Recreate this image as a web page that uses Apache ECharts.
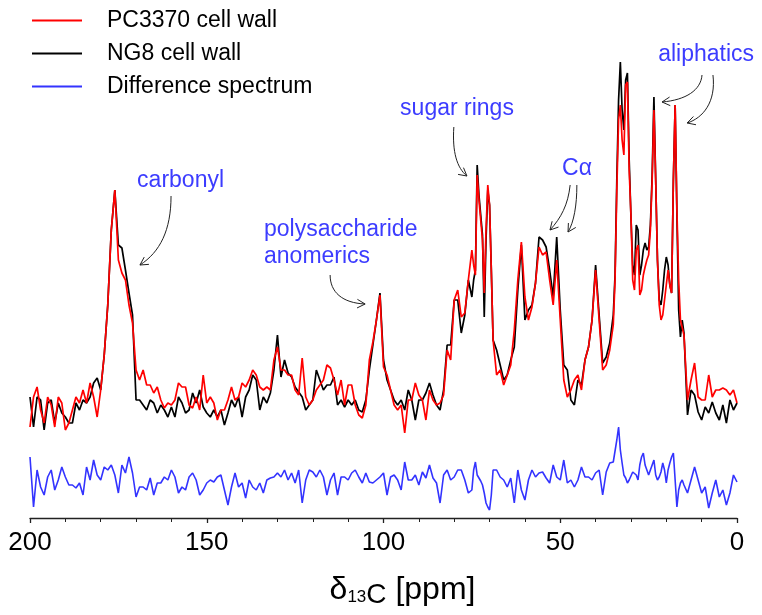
<!DOCTYPE html>
<html>
<head>
<meta charset="utf-8">
<title>13C NMR cell wall</title>
<script src="https://cdn.jsdelivr.net/npm/echarts@6/dist/echarts.min.js"></script>
<style>
html,body{margin:0;padding:0;background:#fff;}
#main{width:762px;height:615px;}
</style>
</head>
<body>
<div id="main"></div>
<script>
// chemical shift grid (ppm), finer steps where the peaks are narrow
var ppm = [200,199,198,197,196,195,194,193,192,191,190,189,188,187,186,185,184,183,182,181,
	180,179,178,177,176,175,174,173,172,171,170,169,168,167,166,165,164,163,162,161,
	160,159,158,157,156,155,154,153,152,151,150,149,148,147,146,145,144,143,142,141,
	140,139,138,137,136,135,134,133,132,131,130,129,128,127,126,125,124,123,122,121,
	120,119,118,117,116,115,114,113,112,111,110,109,108,107,106,105,104,103,102,101,
	100,99,98,97,96,95,94,93,92,91,90,89,88,87,86,85,84,83,82,81,80,79,78,77,76,
	75,74.5,74,73.5,73,72.5,72,71.5,71,70.5,70,69.5,69,
	68,67,66,65,64,63,62,61,60,59,58,57,56,55,54,53,52,51,50,49,48,47,46,45,44,43,42,41,40,39,38,37,36,
	35,34.5,34,33.5,33,32.5,32,31.5,31,30.5,30,29.5,29,28.5,28,27.5,27,26.5,26,25.5,
	25,24.5,24,23.5,23,22.5,22,21.5,21,20.5,20,19.5,19,18.5,18,17.5,17,16.5,16,15.5,15,
	14,13,12,11,10,9,8,7,6,5,4,3,2,1,0];

// PC3370 cell wall (red)
var pc3370 = [3,33,43,20,7,33,25,3,33,27,0,7,20,33,27,40,27,47,33,13,
	40,75,125,200,240,170,157,150,125,107,60,50,60,45,45,37,43,30,22,27,
	25,30,47,43,43,25,22,33,20,55,27,33,27,10,20,20,30,43,30,33,
	47,43,50,60,55,43,40,43,40,70,83,60,60,55,55,40,35,72,33,25,
	30,40,45,50,65,62,50,35,50,25,45,45,25,15,12,25,70,88,110,135,
	63,55,40,25,20,25,-3,30,30,47,35,30,10,40,30,25,27,35,80,70,130,140,113,117,150,
	180,165,155,255,230,210,190,137,200,245,225,160,90,
	55,60,45,55,65,100,150,188,133,110,123,147,183,175,178,150,125,170,110,50,33,40,50,55,40,70,83,110,160,110,60,65,80,
	105,150,240,310,325,290,275,345,348,260,215,150,140,180,185,135,140,155,163,170,
	175,200,250,320,250,170,125,110,115,115,145,160,145,137,250,325,220,150,110,110,95,
	30,50,67,33,30,30,55,33,40,40,42,40,35,40,27];

// NG8 cell wall (black)
var ng8 = [33,3,33,30,0,27,30,7,27,17,13,7,7,27,20,30,27,33,47,52,
	40,75,125,200,240,185,182,160,137,115,30,30,25,20,30,27,17,25,20,13,
	23,13,33,27,17,20,37,27,40,23,17,13,20,13,20,5,17,30,23,33,
	13,33,40,55,50,20,33,27,37,60,95,53,70,57,53,43,38,33,20,25,
	30,60,50,40,45,45,53,25,30,23,30,25,30,20,18,30,60,85,110,137,
	70,50,40,30,25,30,20,40,30,10,30,30,37,47,35,25,20,40,85,85,130,130,97,115,150,
	133,150,160,265,235,215,195,113,190,240,225,160,90,
	80,65,50,55,70,83,140,185,110,120,125,147,193,190,183,160,133,193,120,65,60,30,25,50,45,70,83,110,165,115,67,73,87,
	115,155,250,330,368,320,300,350,357,270,213,165,155,205,200,155,165,180,187,180,
	183,205,255,333,250,170,130,125,140,160,173,165,145,137,250,325,215,120,93,110,97,
	15,40,35,18,10,23,17,28,17,10,25,7,30,20,27];

// difference spectrum (blue), plotted below the two spectra
var diff = [18,-32,5,-12,-20,-2,5,-15,-5,8,-2,-10,-10,-13,-8,-20,8,-5,15,0,
	-5,8,5,10,0,-18,10,2,18,2,-22,-12,-12,-15,-3,-20,-8,-8,-2,-5,
	5,-2,-18,-12,-15,-2,2,-5,-20,-15,-8,-5,-7,-2,0,-15,-30,-12,2,-12,
	-8,-23,-5,-12,-15,-8,-18,-5,-3,-2,2,-2,5,-5,2,-8,5,-28,-5,5,
	3,-2,5,-2,-20,-5,2,-20,-2,-2,-5,2,5,-2,-8,2,-7,-8,-5,-2,
	2,-20,-2,0,-5,-15,13,-5,-5,0,-10,3,-3,10,-3,-8,-28,0,5,-5,-2,5,5,-5,-18,
	-15,5,13,0,-3,-6,-10,-18,-28,-32,-35,-20,5,
	5,-2,-5,-12,-3,-28,5,-15,-25,-5,5,-2,2,3,-3,-8,10,-2,-5,15,-8,-5,-12,-5,8,-2,-2,-5,2,5,-20,3,12,
	13,12,35,48,25,12,0,-3,-8,-5,-3,3,5,0,-5,10,18,22,10,5,
	0,-2,10,15,0,-5,-2,3,12,5,-8,5,12,18,22,-5,-32,-15,-8,-5,-10,
	-18,-5,8,-5,-18,-12,-33,-18,-5,-22,-15,-30,-18,0,-7];
var diffOffset = -45;

var xTicks = [0,50,100,150,200];

// peak labels (ppm, intensity of the text's left/middle point)
var labels = [
	{text:'carbonyl', at:[169.7,249]},
	{text:'polysaccharide\nanomerics', at:[133.8,187]},
	{text:'sugar rings', at:[95.3,321]},
	{text:'C\u03b1', at:[49.5,261]},
	{text:'aliphatics', at:[22.3,375]}
];
// curved arrows: start, control 1, control 2, tip
var arrows = [
	[[160.1,234],[160.1,200],[163.2,178],[168.9,165]],
	[[115.1,155],[115.1,138],[111.7,127],[105.2,126]],
	[[80.1,303],[80.6,278],[79.2,262],[76.4,254]],
	[[47.2,245],[47.8,225],[49.8,212],[52.9,200]],
	[[45.3,245],[45.3,225],[46.1,208],[47.8,198]],
	[[9.9,355],[10.2,340],[14.4,330],[21.2,328]],
	[[6.8,355],[5.9,328],[9.6,312],[14.1,307]]
];

var FONT = '"Liberation Sans", Arial, sans-serif';

function pairs(ys, offset){
	var out = [];
	for(var i=0;i<ppm.length;i++){
		out.push([ppm[i], ys[i] + (offset || 0)]);
	}
	return out;
}

var chart = echarts.init(document.getElementById('main'), null, {renderer:'canvas'});

var option = {
	animation:false,
	backgroundColor:'#fff',
	grid:{left:30, right:25, top:30, bottom:97},
	legend:{
		orient:'vertical',
		left:27, top:3,
		icon:'rect',
		itemWidth:50, itemHeight:2,
		itemGap:8,
		data:['PC3370 cell wall','NG8 cell wall','Difference spectrum'],
		textStyle:{fontFamily:FONT, fontSize:23, color:'#000', lineHeight:25, padding:[0,0,0,20]}
	},
	xAxis:{
		type:'value',
		inverse:true,
		min:0, max:200, interval:50,
		name:'{d|\u03b4}{s|13}{c|C}{n| [ppm]}',
		nameLocation:'middle',
		nameGap:53,
		nameTextStyle:{
			padding:[0,0,0,38],
			rich:{
				d:{fontFamily:FONT, fontSize:32, color:'#000'},
				s:{fontFamily:FONT, fontSize:17, color:'#000', padding:[14,0,0,0]},
				c:{fontFamily:FONT, fontSize:28, color:'#000', padding:[10,0,0,0]},
				n:{fontFamily:FONT, fontSize:32, color:'#000'}
			}
		},
		axisLine:{onZero:false, lineStyle:{color:'#222', width:1.3}},
		axisTick:{length:5, lineStyle:{color:'#222', width:1.3}},
		minorTick:{show:true, splitNumber:5, length:4, lineStyle:{color:'#222', width:1}},
		axisLabel:{
			fontFamily:FONT, fontSize:26, color:'#000', margin:12,
			formatter:function(v){ return xTicks.indexOf(v) >= 0 ? String(v) : ''; }
		},
		splitLine:{show:false}
	},
	yAxis:{
		type:'value', min:-88, max:400, show:false
	},
	series:[
		{
			name:'NG8 cell wall', type:'line', data:pairs(ng8),
			showSymbol:false, symbol:'none', z:2,
			lineStyle:{color:'#000', width:1.7}, itemStyle:{color:'#000'}
		},
		{
			name:'PC3370 cell wall', type:'line', data:pairs(pc3370),
			showSymbol:false, symbol:'none', z:3,
			lineStyle:{color:'#ff0000', width:1.7}, itemStyle:{color:'#ff0000'}
		},
		{
			name:'Difference spectrum', type:'line', data:pairs(diff, diffOffset),
			showSymbol:false, symbol:'none', z:3,
			lineStyle:{color:'#3333ff', width:1.6}, itemStyle:{color:'#3333ff'}
		}
	]
};
chart.setOption(option);

//annotations: converted from data space after the grid is laid out
function toPx(p){
	return chart.convertToPixel({gridIndex:0}, p);
}

function buildGraphics(){
	var g = [];
	for(var i=0;i<labels.length;i++){
		var pt = toPx(labels[i].at);
		g.push({
			type:'text', x:pt[0], y:pt[1], z:10,
			style:{text:labels[i].text, fill:'#3c3cff', font:'23px ' + FONT,
				textVerticalAlign:'middle', lineHeight:27}
		});
	}
	for(var j=0;j<arrows.length;j++){
		var a = arrows[j];
		var s = toPx(a[0]), c1 = toPx(a[1]), c2 = toPx(a[2]), e = toPx(a[3]);
		g.push({
			type:'bezierCurve', z:10,
			shape:{x1:s[0], y1:s[1], cpx1:c1[0], cpy1:c1[1], cpx2:c2[0], cpy2:c2[1], x2:e[0], y2:e[1]},
			style:{stroke:'#222', lineWidth:1, fill:null}
		});
		// open arrow head along the end tangent
		var ang = Math.atan2(e[1]-c2[1], e[0]-c2[0]);
		var len = 9, spread = 0.5;
		g.push({
			type:'polyline', z:10,
			shape:{points:[
				[e[0]-len*Math.cos(ang-spread), e[1]-len*Math.sin(ang-spread)],
				[e[0], e[1]],
				[e[0]-len*Math.cos(ang+spread), e[1]-len*Math.sin(ang+spread)]
			]},
			style:{stroke:'#222', lineWidth:1, fill:null}
		});
	}
	chart.setOption({graphic:g});
}
buildGraphics();
</script>
</body>
</html>
